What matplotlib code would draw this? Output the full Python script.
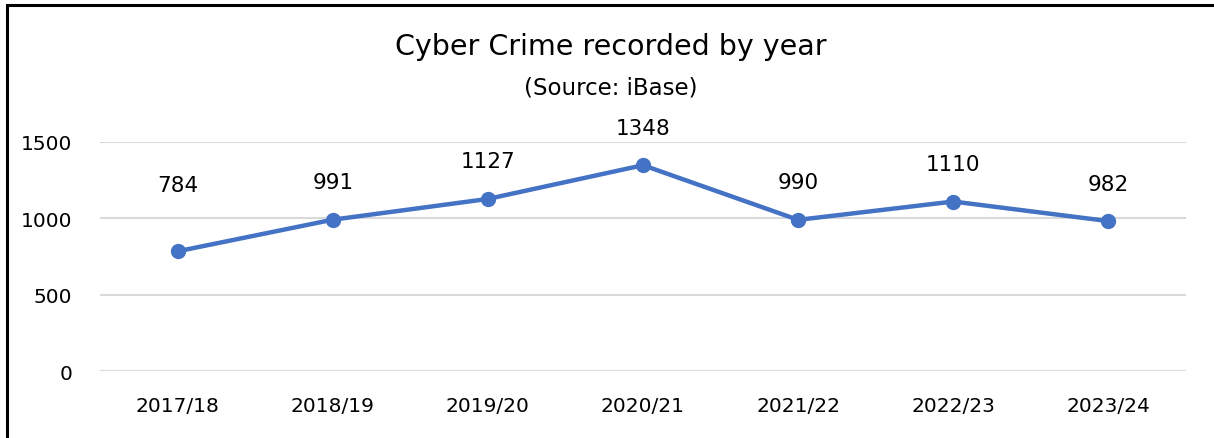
import matplotlib
matplotlib.use("Agg")
import matplotlib.pyplot as plt
from matplotlib.patches import Rectangle

years = ["2017/18", "2018/19", "2019/20", "2020/21", "2021/22", "2022/23", "2023/24"]
crimes = [784, 991, 1127, 1348, 990, 1110, 982]
y_ticks = [0, 500, 1000, 1500]

label_offsets = [48, 27, 27, 27, 27, 27, 27]  # points above each marker

FONT = ["DejaVu Sans"]
plt.rcParams["font.family"] = FONT

fig = plt.figure(figsize=(12.14, 4.39), dpi=100)
W, H = 1214, 439
ax = fig.add_axes([100 / W, 1 - 372 / H, (1186 - 100) / W, (372 - 143) / H])

x = list(range(len(years)))
ax.plot(x, crimes, color="#4472C4", linewidth=3.2, marker="o", markersize=10,
        clip_on=False, zorder=3)
for xi, v, off in zip(x, crimes, label_offsets):
    ax.annotate(str(v), (xi, v), xytext=(0, off), textcoords="offset points",
                ha="center", va="center", fontsize=15.5, color="#000000")

ax.set_xlim(-0.5, len(years) - 0.5)
ax.set_ylim(0, 1500)
ax.set_yticks(y_ticks)
ax.set_yticklabels([str(t) for t in y_ticks])
ax.set_xticks(x)
ax.set_xticklabels(years)
ax.tick_params(axis="both", length=0, labelsize=14.5, colors="#000000")
ax.tick_params(axis="y", pad=20)
ax.tick_params(axis="x", pad=18)
ax.grid(axis="y", color="#D9D9D9", linewidth=1.5)
ax.set_axisbelow(True)
for s in ax.spines.values():
    s.set_visible(False)

fig.text(611 / W, 1 - 47 / H, "Cyber Crime recorded by year", ha="center", va="center",
         fontsize=20.5)
fig.text(611 / W, 1 - 88 / H, "(Source: iBase)", ha="center", va="center", fontsize=16.5)

fig.patches.append(Rectangle((7 / W, -0.1), 1.2, 1 - 6 / H + 0.1, transform=fig.transFigure,
                             fill=False, edgecolor="black", linewidth=2.2))

fig.savefig("out.png", dpi=100)
